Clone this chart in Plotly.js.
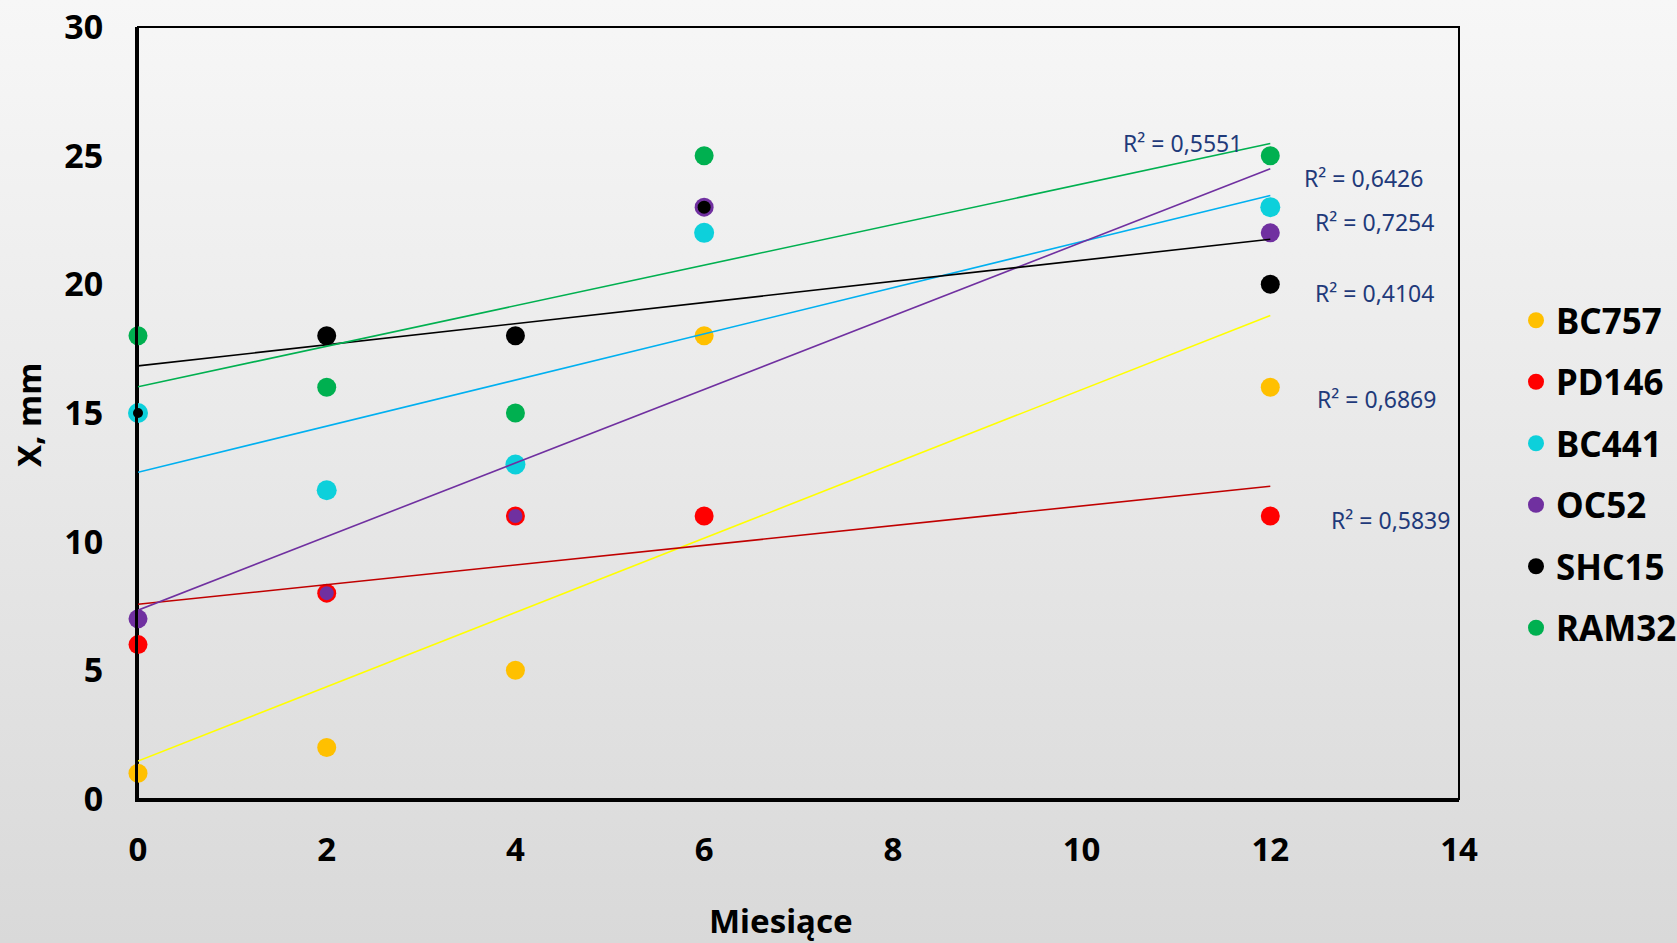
<!DOCTYPE html>
<html>
<head>
<meta charset="utf-8">
<script src="https://cdn.plot.ly/plotly-3.0.1.min.js"></script>
<style>
  html, body { margin: 0; padding: 0; }
  body {
    width: 1677px; height: 943px; overflow: hidden;
    background: linear-gradient(to bottom, #f7f7f7 0%, #d9d9d9 100%);
  }
  #chart { width: 1677px; height: 943px; }
</style>
</head>
<body>
<div id="chart"></div>
<script>
// Months of observation and measured X (mm) for each strain
const months = [0, 2, 4, 6, 12];
const seriesNames = ['BC757', 'PD146', 'BC441', 'OC52', 'SHC15', 'RAM32'];
const bc757 = [1, 2, 5, 18, 16];
const pd146 = [6, 8, 11, 11, 11];
const bc441 = [15, 12, 13, 22, 23];
const oc52  = [7, 8, 11, 23, 22];
const shc15 = [15, 18, 18, 23, 20];
const ram32 = [18, 16, 15, 25, 25];
const xTickVals = [0, 2, 4, 6, 8, 10, 12, 14];
const yTickVals = [0, 5, 10, 15, 20, 25, 30];
const xTitle = 'Miesiące';
const yTitle = 'X, mm';

const values = [bc757, pd146, bc441, oc52, shc15, ram32];

// Styling per series
const markerColors = ['#FFC000', '#FF0000', '#0DD0DB', '#7030A0', '#000000', '#00B050'];
const lineColors   = ['#FFFF00', '#C00000', '#00B0F0', '#7030A0', '#000000', '#00B050'];
const markerSizes  = [
  19, 19, 20,
  [19, 14, 14, 19, 19],   // smaller where it sits over PD146
  [10, 19, 19, 13, 19],   // smaller where it sits over BC441 / OC52
  19
];
// Where each R² label sits (data coordinates)
const r2LabelPos = [
  [13.13, 15.54], [13.27, 10.84], [12.99, 24.13],
  [13.10, 22.42], [13.10, 19.66], [11.07, 25.49]
];

// Ordinary least squares fit y = a + b x, with R²
function linearFit(xs, ys) {
  const n = xs.length;
  const mx = xs.reduce((s, v) => s + v, 0) / n;
  const my = ys.reduce((s, v) => s + v, 0) / n;
  let sxx = 0, sxy = 0, syy = 0;
  for (let i = 0; i < n; i++) {
    const dx = xs[i] - mx, dy = ys[i] - my;
    sxx += dx * dx; sxy += dx * dy; syy += dy * dy;
  }
  const b = sxy / sxx;
  return { a: my - b * mx, b: b, r2: (sxy * sxy) / (sxx * syy) };
}

const FONT = 'Noto Sans, Open Sans, DejaVu Sans, sans-serif';
const fitStart = Math.min(...months), fitEnd = Math.max(...months);

const markerTraces = [];
const lineTraces = [];
const annotations = [];

values.forEach((ys, i) => {
  markerTraces.push({
    type: 'scatter', mode: 'markers', name: seriesNames[i],
    x: months, y: ys, cliponaxis: false,
    legendgroup: seriesNames[i],
    marker: { color: markerColors[i], size: markerSizes[i], opacity: 1, line: { width: 0 } },
    hoverinfo: 'x+y+name'
  });
  const fit = linearFit(months, ys);
  lineTraces.push({
    type: 'scatter', mode: 'lines', showlegend: false,
    x: [fitStart, fitEnd],
    y: [fit.a + fit.b * fitStart, fit.a + fit.b * fitEnd],
    line: { color: lineColors[i], width: 1.6 },
    hoverinfo: 'skip'
  });
  annotations.push({
    xref: 'x', yref: 'y', x: r2LabelPos[i][0], y: r2LabelPos[i][1],
    text: 'R² = ' + fit.r2.toFixed(4).replace('.', ','),
    showarrow: false, xanchor: 'center', yanchor: 'middle',
    font: { family: FONT, size: 23, color: '#1F3A7A' }
  });
});

const L = 138, R = 218, T = 27, B = 144;
const W = 1677 - L - R, H = 943 - T - B;

annotations.push({
  xref: 'paper', yref: 'paper',
  x: (781 - L) / W, y: (799 - 920) / H,
  text: xTitle, showarrow: false, xanchor: 'center', yanchor: 'middle',
  font: { family: FONT, size: 33, color: '#000', weight: 700 }
});
annotations.push({
  xref: 'paper', yref: 'paper',
  x: (28 - L) / W, y: (799 - 415) / H,
  text: yTitle, showarrow: false, textangle: -90, xanchor: 'center', yanchor: 'middle',
  font: { family: FONT, size: 33, color: '#000', weight: 700 }
});

const layout = {
  width: 1677, height: 943,
  margin: { l: L, r: R, t: T, b: B, pad: 0, autoexpand: false },
  paper_bgcolor: 'rgba(0,0,0,0)',
  plot_bgcolor: 'rgba(0,0,0,0)',
  showlegend: true,
  legend: {
    x: (1516 - L) / W, y: (799 - 291) / H, xanchor: 'left', yanchor: 'top',
    bgcolor: 'rgba(0,0,0,0)', borderwidth: 0,
    tracegroupgap: 13,
    font: { family: FONT, size: 35, color: '#000', weight: 700 }
  },
  xaxis: {
    range: [0, 14], tickvals: xTickVals, ticktext: xTickVals.map(String),
    showgrid: false, zeroline: false,
    showline: true, linecolor: '#000', linewidth: 3,
    ticks: '', ticklabelstandoff: 19,
    tickfont: { family: FONT, size: 33, color: '#000', weight: 700 }
  },
  yaxis: {
    range: [0, 30], tickvals: yTickVals, ticktext: yTickVals.map(String),
    showgrid: false, zeroline: false,
    showline: true, linecolor: '#000', linewidth: 3,
    ticks: '', ticklabelstandoff: 25,
    tickfont: { family: FONT, size: 34, color: '#000', weight: 700 }
  },
  shapes: [{
    type: 'rect', xref: 'paper', yref: 'paper', x0: 0, x1: 1, y0: 0, y1: 1,
    line: { color: '#000', width: 2 }, fillcolor: 'rgba(0,0,0,0)', layer: 'below'
  }],
  annotations: annotations
};

Plotly.newPlot('chart', markerTraces.concat(lineTraces), layout,
  { displayModeBar: false, responsive: false });
</script>
</body>
</html>
